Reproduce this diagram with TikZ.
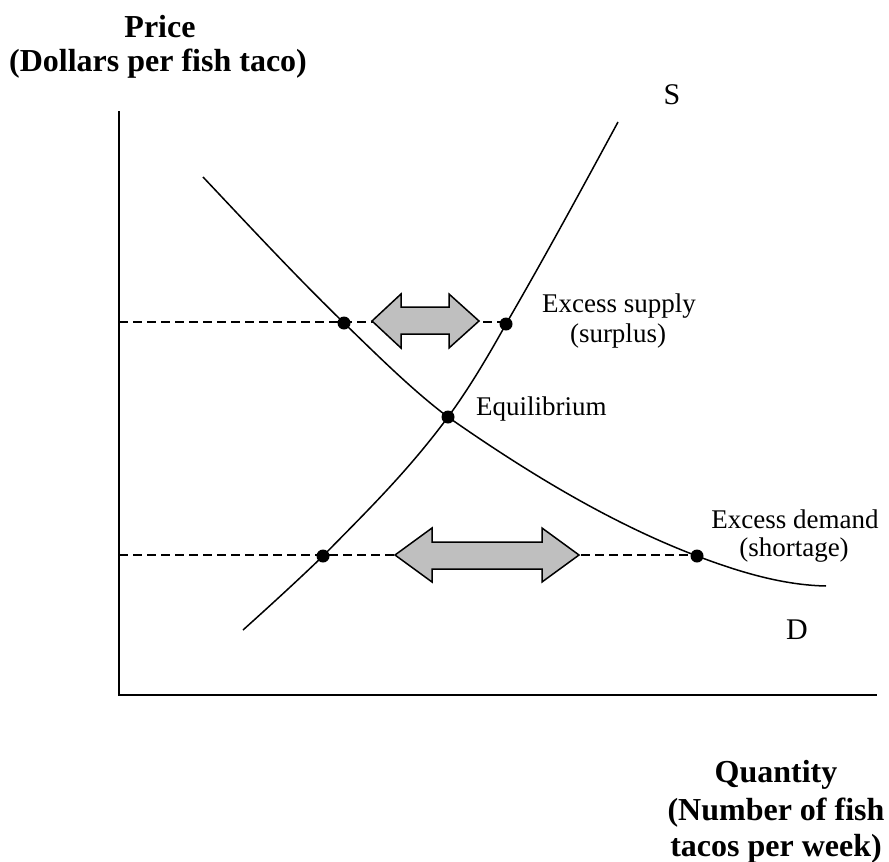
\documentclass[tikz,border=0pt]{standalone}
\usepackage{fontspec}
\setmainfont{Liberation Serif}
\begin{document}
\begin{tikzpicture}[x=1pt,y=-1pt,
  curve/.style={line width=1.5pt},
  axisline/.style={line width=2pt},
  guide/.style={line width=1.5pt, dash pattern=on 9pt off 5pt},
  dotpt/.style={circle, fill=black, inner sep=0pt, minimum size=13pt},
  lbl/.style={inner sep=0pt, align=center, font=\fontsize{27}{31}\selectfont},
  bold/.style={inner sep=0pt, font=\fontsize{32}{37}\selectfont\bfseries},
  big/.style={inner sep=0pt, font=\fontsize{30}{34}\selectfont},
  fatarrow/.style={draw=black, fill=black!25, line width=1.5pt, line join=miter}]
\useasboundingbox (0,0) rectangle (889,862);
% axes
\coordinate (ytop) at (119,111);
\coordinate (origin) at (119,695);
\coordinate (xend) at (877,695);
\draw[axisline] (ytop) -- (origin) -- (xend);
% points
\node[dotpt] (p1) at (344,323) {};
\node[dotpt] (p2) at (506,324) {};
\node[dotpt] (eq) at (448,417) {};
\node[dotpt] (p3) at (323,556) {};
\node[dotpt] (p4) at (697,556) {};
% guide lines
\coordinate (g1) at (119,322);
\coordinate (g2) at (119,555);
\draw[guide] (g1) -- (506,322);
\draw[guide] (g2) -- (697,555);
% supply
\coordinate (sb) at (243,630);
\coordinate (st) at (618,122);
\draw[curve] (sb) .. controls (269.7,606) and (296.3,581.7) .. (p3.center)
  .. controls (364.7,513.3) and (406.3,473.3) .. (eq.center)
  .. controls (467.3,390.9) and (486.7,358.8) .. (p2.center)
  .. controls (543.3,259.7) and (580.7,191) .. (st);
% demand
\coordinate (da) at (203,177);
\coordinate (de) at (826,586);
\draw[curve] (da) .. controls (250,226.8) and (297,277.4) .. (p1.center)
  .. controls (378.7,356.6) and (413.3,391) .. (eq.center)
  .. controls (531,475.1) and (614,524.5) .. (p4.center)
  .. controls (740,572.3) and (783,585.1) .. (de);
% fat arrows
\draw[fatarrow] (372,321) -- (401,294) -- (401,307) -- (449,307) -- (449,294) -- (479,321)
  -- (449,348) -- (449,334) -- (401,334) -- (401,348) -- cycle;
\draw[fatarrow] (395,555) -- (432,528) -- (432,542) -- (542,542) -- (542,528) -- (579,555)
  -- (542,582) -- (542,569) -- (432,569) -- (432,582) -- cycle;
% labels
\node[big] (S) at (672,95) {S};
\node[big] (D) at (797,630) {D};
\node[lbl, anchor=west] (eql) at (476,409) {Equilibrium};
\node[lbl] (es1) at (619,306) {Excess supply};
\node[lbl] (es2) at (618,336) {(surplus)};
\node[lbl] (ed1) at (795,519) {Excess demand};
\node[lbl] (ed2) at (794,550) {(shortage)};
\node[bold] (pr1) at (160,27) {Price};
\node[bold] (pr2) at (158,64) {(Dollars per fish taco)};
\node[bold] (q1) at (776,775) {Quantity};
\node[bold] (q2) at (776,813) {(Number of fish};
\node[bold] (q3) at (776,849) {tacos per week)};
\end{tikzpicture}
\end{document}
